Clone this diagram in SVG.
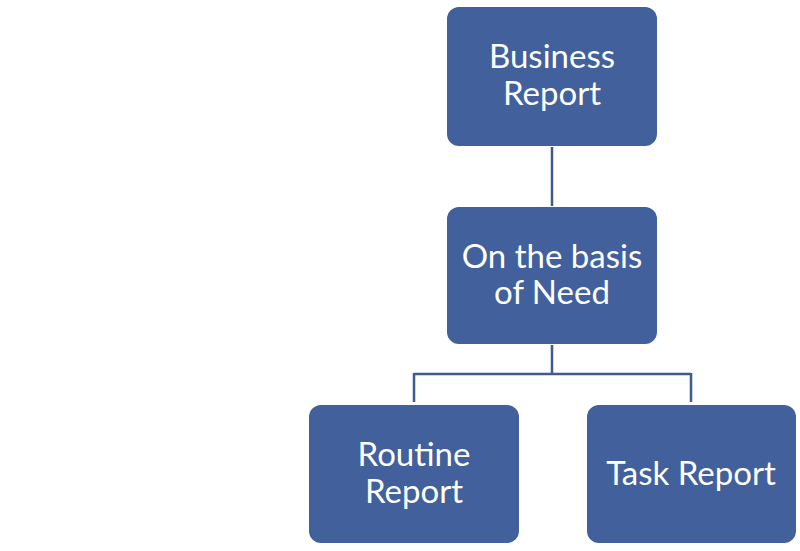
<svg xmlns="http://www.w3.org/2000/svg" width="800" height="551" viewBox="0 0 800 551">
<style>
.box{fill:#41609C;}
.t{fill:#ffffff;font-family:Lato,"Open Sans",sans-serif;font-size:33px;text-anchor:middle;}
.c{fill:none;stroke:#3F5A8E;stroke-width:2.5;}
</style>
<rect width="800" height="551" fill="#ffffff"/>
<g id="connectors">
<path class="c" d="M552 147V206"/>
<path class="c" d="M552 345V374M414 374H691M414 373V402M691 373V402"/>
</g>
<g id="business">
<rect class="box" x="447" y="7" width="210" height="139" rx="12"/>
<text class="t" x="552" y="68">Business</text>
<text class="t" x="552" y="105">Report</text>
</g>
<g id="need">
<rect class="box" x="447" y="207" width="210" height="137" rx="12"/>
<text class="t" x="552" y="268">On the basis</text>
<text class="t" x="552" y="304">of Need</text>
</g>
<g id="routine">
<rect class="box" x="309" y="405" width="210" height="138" rx="12"/>
<text class="t" x="414" y="466">Routine</text>
<text class="t" x="414" y="503">Report</text>
</g>
<g id="task">
<rect class="box" x="587" y="405" width="209" height="138" rx="12"/>
<text class="t" x="691" y="485">Task Report</text>
</g>
</svg>
